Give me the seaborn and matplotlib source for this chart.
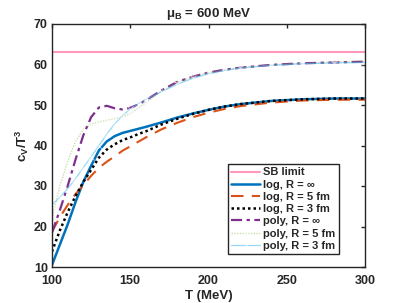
# heat capacity c_V/T^3 vs temperature at mu_B = 600 MeV
import matplotlib
matplotlib.use('Agg')
from matplotlib import pyplot as plt
import seaborn as sns

# data
T = [100, 105, 110, 115, 120, 125, 130, 135, 140, 145, 150, 155, 160,
     170, 180, 190, 200, 210, 220, 240, 260, 280, 300]

sb_limit = [63.1] * len(T)

log_inf = [10.5, 15.5, 20.5, 26.0, 31.0, 35.0, 38.8, 41.0, 42.3, 43.1, 43.6, 44.1, 44.6,
           45.7, 46.9, 47.9, 48.8, 49.6, 50.2, 51.0, 51.4, 51.6, 51.6]
log_5 = [18.7, 22.3, 25.3, 28.0, 30.2, 32.5, 34.5, 36.0, 37.3, 38.7, 39.8, 40.9, 42.0,
         44.0, 45.6, 47.0, 48.1, 49.0, 49.7, 50.6, 51.1, 51.3, 51.3]
log_3 = [13.8, 19.0, 23.5, 27.5, 31.0, 34.0, 37.0, 39.0, 40.3, 41.3, 42.0, 42.8, 43.5,
         45.2, 46.6, 47.8, 48.8, 49.6, 50.2, 51.0, 51.4, 51.6, 51.6]
poly_inf = [18.5, 24.0, 30.0, 36.5, 42.5, 47.0, 49.4, 49.8, 49.2, 48.9, 49.3, 50.1, 51.2,
            53.6, 55.7, 57.0, 58.0, 58.7, 59.2, 59.9, 60.3, 60.5, 60.7]
poly_5 = [22.0, 30.0, 36.0, 41.0, 44.0, 45.3, 45.8, 46.2, 46.6, 47.0, 47.9, 49.2, 50.6,
          53.4, 55.6, 57.0, 58.0, 58.7, 59.2, 59.9, 60.3, 60.6, 60.8]
poly_3 = [25.3, 27.2, 29.3, 31.8, 34.5, 37.2, 40.0, 42.8, 45.3, 47.3, 49.0, 50.3, 51.4,
          53.3, 55.1, 56.6, 57.7, 58.5, 59.1, 59.8, 60.2, 60.4, 60.5]

sns.set_style('white')
plt.rcParams['font.family'] = ['Liberation Sans', 'DejaVu Sans']
plt.rcParams['font.weight'] = 'bold'
plt.rcParams['mathtext.fontset'] = 'custom'
plt.rcParams['mathtext.default'] = 'bf'
plt.rcParams['mathtext.bf'] = 'Liberation Sans:bold'
plt.rcParams['mathtext.it'] = 'Liberation Sans:bold'
plt.rcParams['mathtext.rm'] = 'Liberation Sans:bold'

fig = plt.figure(figsize=(4.03, 3.03), dpi=100)
ax = fig.add_axes([52 / 403, 36 / 303, 313 / 403, 243 / 303])

sns.lineplot(x=T, y=sb_limit, ax=ax, color='#FF99BB', lw=1.5, label='SB limit')
sns.lineplot(x=T, y=log_inf, ax=ax, color='#0072BD', lw=1.8, label='log, R = ∞')
sns.lineplot(x=T, y=log_5, ax=ax, color='#D95319', lw=1.5, dashes=(6, 4),
             label='log, R = 5 fm')
sns.lineplot(x=T, y=log_3, ax=ax, color='black', lw=1.8, dashes=(1, 1.2),
             label='log, R = 3 fm')
sns.lineplot(x=T, y=poly_inf, ax=ax, color='#7E2F8E', lw=1.6, dashes=(5, 2, 1.5, 2),
             label='poly, R = ∞')
sns.lineplot(x=T, y=poly_5, ax=ax, color='#77AC30', lw=1.0, alpha=0.4, dashes=(1, 1),
             marker='+', markersize=5, label='poly, R = 5 fm')
sns.lineplot(x=T, y=poly_3, ax=ax, color='#4DBEEE', lw=0.9, alpha=0.6,
             marker='x', markersize=4, label='poly, R = 3 fm')

ax.set_xlim(100, 300)
ax.set_ylim(10, 70)
ax.set_xticks([100, 150, 200, 250, 300])
ax.set_yticks([10, 20, 30, 40, 50, 60, 70])
ax.tick_params(direction='in', length=3, width=1, top=True, right=True,
               labelsize=9, colors='#262626', pad=3)
ax.tick_params(axis='x', pad=6)
for lab in ax.get_xticklabels() + ax.get_yticklabels():
    lab.set_fontweight('bold')
for s in ax.spines.values():
    s.set_color('#262626')
    s.set_linewidth(1.0)

ax.set_xlabel('T (MeV)', fontsize=9.5, fontweight='bold', color='#262626', labelpad=2)
ax.set_ylabel(r'c$_\mathregular{V}$/T$^\mathregular{3}$', fontsize=9.5,
              fontweight='bold', color='#262626', labelpad=2)
ax.set_title(r'$\mu_\mathregular{B}$ = 600 MeV', fontsize=9.5, fontweight='bold',
             color='#262626', pad=5)

leg = ax.legend(loc='lower right', bbox_to_anchor=(0.917, 0.053), borderaxespad=0,
                fontsize=8, handlelength=2.6, handletextpad=0.3,
                labelspacing=0.2, borderpad=0.3, fancybox=False, framealpha=1)
leg.get_frame().set_edgecolor('#262626')
leg.get_frame().set_linewidth(1.0)
for t in leg.get_texts():
    t.set_fontweight('bold')

fig.savefig('out.png', dpi=100)
